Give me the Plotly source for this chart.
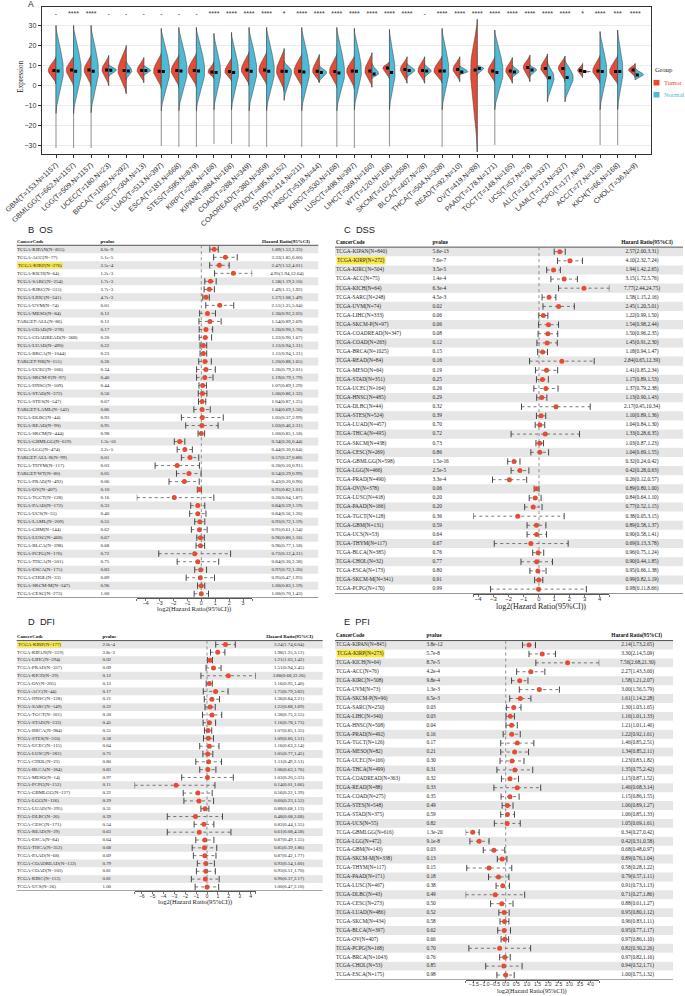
import numpy as np
import plotly.graph_objects as go

W, H = 685, 996
def fx(p): return p / W
def fy(p): return 1 - p / H

RED = "#E64B35"
BLUE = "#4DBBD5"
SANS = "Liberation Sans"
SERIF = "Liberation Serif"

# ---------------- Panel A data ----------------
a_labels = ["GBM(T=153,N=1157)", "GBMLGG(T=662,N=1157)", "LGG(T=509,N=1157)", "UCEC(T=180,N=23)",
            "BRCA(T=1092,N=292)", "CESC(T=304,N=13)", "LUAD(T=513,N=397)", "ESCA(T=181,N=668)",
            "STES(T=595,N=879)", "KIRP(T=288,N=168)", "KIPAN(T=884,N=168)", "COAD(T=288,N=349)",
            "COADREAD(T=380,N=359)", "PRAD(T=495,N=152)", "STAD(T=414,N=211)", "HNSC(T=518,N=44)",
            "KIRC(T=530,N=168)", "LUSC(T=498,N=397)", "LIHC(T=369,N=160)", "WT(T=120,N=168)",
            "SKCM(T=102,N=558)", "BLCA(T=407,N=28)", "THCA(T=504,N=338)", "READ(T=92,N=10)",
            "OV(T=419,N=88)", "PAAD(T=178,N=171)", "TGCT(T=148,N=165)", "UCS(T=57,N=78)",
            "ALL(T=132,N=337)", "LAML(T=173,N=337)", "PCPG(T=177,N=3)", "ACC(T=77,N=128)",
            "KICH(T=66,N=168)", "CHOL(T=36,N=9)"]
a_sig = ["-", "****", "****", "-", "-", "-", "-", "-", "-", "****", "****", "****", "****", "*",
         "****", "****", "****", "****", "****", "****", "****", "-", "****", "****", "****", "****",
         "****", "****", "****", "****", "*", "****", "***", "****"]
tumor_lo = [0.8, -0.5, -0.5, 0, -4, 1.5, -1.5, -1, -1, 3.5, 2, 0, 0, -3, -1, 1.5, -1, -1.8, -0.8, 3.2,
            1.2, 1.2, 1.2, 2, -33, 1.2, 1.2, 2, 2.8, 2, 4.1, 1.2, 0.3, 4.1]
tumor_hi = [14.4, 15, 15.5, 15, 20, 14, 16.5, 15.5, 16.5, 12, 14, 17, 17, 18.5, 16, 15.5, 16, 15, 16.4, 12,
            14.4, 14.4, 14.8, 14.4, 33, 14.4, 14, 15.2, 15.8, 14.8, 11, 15.2, 15.2, 11]
tumor_med = [7.5, 7.8, 7.8, 7.8, 7.5, 7.5, 7.2, 7.5, 7.5, 6.8, 7.0, 7.8, 7.8, 7.2, 7.2, 7.2, 7.0, 7.3, 7.3, 8.8,
             8.1, 7.5, 7.3, 8.1, 7.8, 7.3, 7.3, 9.0, 8.6, 8.6, 7.5, 7.3, 7.0, 7.8]
tumor_wid = [0.44, 0.42, 0.40, 0.38, 0.47, 0.38, 0.44, 0.44, 0.47, 0.34, 0.38, 0.44, 0.44, 0.44, 0.44, 0.38,
             0.42, 0.44, 0.40, 0.38, 0.38, 0.38, 0.47, 0.38, 0.38, 0.38, 0.38, 0.38, 0.38, 0.38, 0.28, 0.42,
             0.46, 0.38]
normal_lo = [-13.8, -13.8, -13.5, 4.5, 3, 5, -12.5, -12.5, -12.5, -12, -12, -12.5, -12.5, -7, -12.5, 2,
             -12.5, -12, 3.6, -12, 4.1, 4.1, -12, 5.3, 5.3, -12, 4.1, 4.5, -8, -8, 6.6, -12, -12, 2.8]
normal_hi = [30, 30, 30, 10.5, 12, 10, 28.5, 29, 29, 26, 26.5, 29, 29, 12, 29, 10, 29, 28.5, 11, 28, 11,
             10.6, 28.5, 9.8, 10.1, 27.7, 10.3, 10.3, 12, 12.8, 7.4, 26.9, 27.7, 8.6]
normal_med = [7.3, 7.2, 7.2, 7.7, 7.3, 7.5, 7.0, 7.3, 7.3, 6.5, 6.5, 7.2, 7.2, 7.2, 6.8, 6.5, 6.3, 7.2, 5.8,
              6.5, 7.5, 7.3, 7.3, 6.8, 8.6, 6.6, 6.8, 7.8, 4.0, 4.1, 7.0, 7.0, 7.0, 5.3]
normal_wid = [0.42, 0.44, 0.42, 0.44, 0.32, 0.40, 0.47, 0.47, 0.47, 0.38, 0.40, 0.44, 0.44, 0.42, 0.44, 0.42,
              0.44, 0.40, 0.38, 0.32, 0.44, 0.38, 0.38, 0.47, 0.38, 0.47, 0.38, 0.38, 0.38, 0.47, 0.45, 0.38,
              0.30, 0.47]
tail_lo = [-31, -31, -31, 0, -4, 1.5, -30, -30.5, -30.5, -29, -29, -30.5, -30.5, -7.5, -30.5, 1.5, -30.5,
           -31, -0.8, -30.3, 1.2, 1.2, -30.5, 2, -33, -29.5, 1.2, 2, -8, -8, 4.1, -29.5, -29.5, 2.8]
tail_hi = [30, 30, 30, 15, 20, 14, 28.5, 29, 29, 26, 26.5, 29, 29, 18.5, 29, 15.5, 29, 28.5, 16.4, 28,
           14.4, 14.4, 28.5, 14.4, 33, 27.7, 14, 15.2, 15.8, 14.8, 11, 26.9, 27.7, 11]

# ---------------- Forest data ----------------
os_names = ["TCGA-KIPAN(N=855)", "TCGA-ACC(N=77)", "TCGA-KIRP(N=276)", "TCGA-KICH(N=64)", "TCGA-SARC(N=254)",
            "TCGA-KIRC(N=515)", "TCGA-LIHC(N=341)", "TCGA-UVM(N=74)", "TCGA-MESO(N=84)", "TARGET-ALL(N=86)",
            "TCGA-COAD(N=278)", "TCGA-COADREAD(N=368)", "TCGA-LUAD(N=490)", "TCGA-BRCA(N=1044)",
            "TARGET-NB(N=151)", "TCGA-UCEC(N=166)", "TCGA-SKCM-P(N=97)", "TCGA-HNSC(N=509)", "TCGA-STAD(N=372)",
            "TCGA-STES(N=547)", "TARGET-LAML(N=142)", "TCGA-DLBC(N=44)", "TCGA-READ(N=90)", "TCGA-SKCM(N=444)",
            "TCGA-GBMLGG(N=619)", "TCGA-LGG(N=474)", "TARGET-ALL-R(N=99)", "TCGA-THYM(N=117)", "TARGET-WT(N=80)",
            "TCGA-PRAD(N=492)", "TCGA-OV(N=407)", "TCGA-TGCT(N=128)", "TCGA-PAAD(N=172)", "TCGA-UCS(N=55)",
            "TCGA-LAML(N=209)", "TCGA-GBM(N=144)", "TCGA-LUSC(N=468)", "TCGA-BLCA(N=398)", "TCGA-PCPG(N=170)",
            "TCGA-THCA(N=501)", "TCGA-ESCA(N=175)", "TCGA-CHOL(N=33)", "TCGA-SKCM-M(N=347)", "TCGA-CESC(N=273)"]
os_p = ["6.0e-9", "5.1e-5", "2.5e-4", "1.2e-3", "1.7e-3", "2.7e-3", "4.7e-3", "0.01", "0.12", "0.12", "0.17",
        "0.20", "0.22", "0.23", "0.26", "0.34", "0.40", "0.44", "0.56", "0.67", "0.86", "0.93", "0.95", "0.98",
        "1.3e-16", "2.2e-5", "0.01", "0.03", "0.05", "0.06", "0.10", "0.16", "0.33", "0.40", "0.55", "0.62",
        "0.67", "0.68", "0.72", "0.75", "0.83", "0.89", "0.96", "1.00"]
os_hr = [1.89, 3.33, 2.47, 4.95, 1.58, 1.49, 1.27, 2.51, 1.36, 1.54, 1.26, 1.22, 1.11, 1.11, 1.20, 1.26, 1.19,
         1.07, 1.06, 1.04, 1.04, 1.05, 1.03, 1.00, 0.34, 0.44, 0.57, 0.30, 0.54, 0.43, 0.91, 0.26, 0.84, 0.84,
         0.93, 0.91, 0.96, 0.96, 0.72, 0.84, 0.97, 0.95, 1.00, 1.00]
os_lo = [1.53, 1.85, 1.52, 1.94, 1.19, 1.15, 1.08, 1.25, 0.92, 0.89, 0.90, 0.90, 0.94, 0.94, 0.88, 0.79, 0.79,
         0.89, 0.86, 0.87, 0.69, 0.37, 0.46, 0.85, 0.26, 0.30, 0.37, 0.10, 0.29, 0.20, 0.82, 0.04, 0.59, 0.56,
         0.72, 0.61, 0.80, 0.77, 0.12, 0.30, 0.72, 0.47, 0.83, 0.70]
os_hi = [2.33, 6.00, 4.01, 12.64, 2.10, 1.92, 1.49, 5.04, 2.03, 2.69, 1.76, 1.67, 1.31, 1.31, 1.65, 2.01, 1.79,
         1.29, 1.32, 1.25, 1.56, 2.99, 2.31, 1.18, 0.44, 0.64, 0.88, 0.91, 0.99, 0.90, 1.01, 1.87, 1.19, 1.26,
         1.19, 1.34, 1.16, 1.18, 4.31, 2.38, 1.30, 1.93, 1.19, 1.43]

dss_names = ["TCGA-KIPAN(N=840)", "TCGA-KIRP(N=272)", "TCGA-KIRC(N=504)", "TCGA-ACC(N=75)", "TCGA-KICH(N=64)",
             "TCGA-SARC(N=248)", "TCGA-UVM(N=74)", "TCGA-LIHC(N=333)", "TCGA-SKCM-P(N=97)",
             "TCGA-COADREAD(N=347)", "TCGA-COAD(N=263)", "TCGA-BRCA(N=1025)", "TCGA-READ(N=84)",
             "TCGA-MESO(N=64)", "TCGA-STAD(N=351)", "TCGA-UCEC(N=164)", "TCGA-HNSC(N=485)", "TCGA-DLBC(N=44)",
             "TCGA-STES(N=524)", "TCGA-LUAD(N=457)", "TCGA-THCA(N=495)", "TCGA-SKCM(N=438)", "TCGA-CESC(N=269)",
             "TCGA-GBMLGG(N=598)", "TCGA-LGG(N=466)", "TCGA-PRAD(N=490)", "TCGA-OV(N=378)", "TCGA-LUSC(N=418)",
             "TCGA-PAAD(N=166)", "TCGA-TGCT(N=128)", "TCGA-GBM(N=131)", "TCGA-UCS(N=53)", "TCGA-THYM(N=117)",
             "TCGA-BLCA(N=385)", "TCGA-CHOL(N=32)", "TCGA-ESCA(N=173)", "TCGA-SKCM-M(N=341)", "TCGA-PCPG(N=170)"]
dss_p = ["5.6e-13", "7.6e-7", "3.5e-5", "1.4e-4", "6.3e-4", "4.5e-3", "0.02", "0.06", "0.06", "0.08", "0.12",
         "0.15", "0.16", "0.19", "0.25", "0.26", "0.29", "0.32", "0.39", "0.70", "0.72", "0.73", "0.86",
         "1.5e-16", "2.5e-5", "3.3e-4", "0.06", "0.20", "0.20", "0.36", "0.59", "0.64", "0.67", "0.76", "0.77",
         "0.80", "0.91", "0.99"]
dss_hr = [2.57, 4.10, 1.94, 3.15, 7.77, 1.58, 2.45, 1.22, 1.54, 1.50, 1.45, 1.18, 2.84, 1.41, 1.17, 1.37, 1.13,
          2.17, 1.10, 1.04, 1.33, 1.03, 1.04, 0.32, 0.42, 0.26, 0.89, 0.84, 0.77, 0.38, 0.89, 0.90, 0.69, 0.96,
          0.90, 0.95, 0.99, 0.98]
dss_lo = [2.00, 2.32, 1.42, 1.72, 2.44, 1.15, 1.20, 0.99, 0.98, 0.96, 0.91, 0.94, 0.65, 0.85, 0.89, 0.79, 0.90,
          0.45, 0.89, 0.84, 0.28, 0.87, 0.69, 0.24, 0.28, 0.12, 0.80, 0.64, 0.52, 0.05, 0.58, 0.58, 0.13, 0.75,
          0.44, 0.66, 0.82, 0.11]
dss_hi = [3.31, 7.24, 2.65, 5.76, 24.75, 2.16, 5.01, 1.50, 2.44, 2.35, 2.30, 1.47, 12.39, 2.34, 1.53, 2.38, 1.43,
          10.34, 1.36, 1.30, 6.35, 1.23, 1.55, 0.42, 0.63, 0.57, 1.00, 1.10, 1.15, 3.15, 1.37, 1.41, 3.78, 1.24,
          1.85, 1.38, 1.19, 8.66]

dfi_names = ["TCGA-KIRP(N=177)", "TCGA-KIPAN(N=319)", "TCGA-LIHC(N=294)", "TCGA-PRAD(N=337)", "TCGA-KICH(N=29)",
             "TCGA-OV(N=205)", "TCGA-ACC(N=44)", "TCGA-HNSC(N=128)", "TCGA-SARC(N=149)", "TCGA-TGCT(N=101)",
             "TCGA-STAD(N=232)", "TCGA-BRCA(N=984)", "TCGA-STES(N=316)", "TCGA-UCEC(N=115)", "TCGA-LUSC(N=282)",
             "TCGA-CHOL(N=23)", "TCGA-BLCA(N=184)", "TCGA-MESO(N=14)", "TCGA-PCPG(N=152)", "TCGA-GBMLGG(N=127)",
             "TCGA-LGG(N=126)", "TCGA-LUAD(N=295)", "TCGA-DLBC(N=26)", "TCGA-CESC(N=171)", "TCGA-READ(N=29)",
             "TCGA-ESCA(N=84)", "TCGA-THCA(N=352)", "TCGA-PAAD(N=68)", "TCGA-COADREAD(N=132)", "TCGA-COAD(N=103)",
             "TCGA-KIRC(N=113)", "TCGA-UCS(N=26)"]
dfi_p = ["2.0e-4", "3.8e-3", "0.02", "0.09", "0.12", "0.13", "0.17", "0.21", "0.22", "0.30", "0.45", "0.55",
         "0.58", "0.64", "0.75", "0.80", "0.83", "0.97", "0.11", "0.22", "0.29", "0.31", "0.39", "0.54", "0.63",
         "0.64", "0.68", "0.69", "0.79", "0.81", "0.81", "1.00"]
dfi_hr = [3.24, 1.98, 1.21, 1.51, 3.88, 1.16, 1.73, 1.36, 1.22, 1.38, 1.16, 1.07, 1.09, 1.16, 1.05, 1.11, 1.06,
          1.03, 0.14, 0.56, 0.60, 0.88, 0.48, 0.82, 0.61, 0.87, 0.85, 0.87, 0.93, 0.93, 0.90, 1.00]
dfi_lo = [1.74, 1.25, 1.03, 0.94, 0.68, 0.95, 0.79, 0.84, 0.88, 0.75, 0.78, 0.85, 0.80, 0.63, 0.77, 0.49, 0.63,
          0.20, 0.01, 0.22, 0.23, 0.68, 0.08, 0.44, 0.08, 0.49, 0.39, 0.42, 0.54, 0.51, 0.37, 0.47]
dfi_hi = [6.04, 3.12, 1.42, 2.45, 22.26, 1.40, 3.82, 2.21, 1.69, 2.55, 1.73, 1.35, 1.51, 2.14, 1.45, 2.51, 1.76,
          5.33, 1.66, 1.39, 1.52, 1.13, 2.68, 1.55, 4.58, 1.55, 1.86, 1.77, 1.60, 1.70, 2.17, 2.10]

pfi_names = ["TCGA-KIPAN(N=845)", "TCGA-KIRP(N=273)", "TCGA-KICH(N=64)", "TCGA-ACC(N=76)", "TCGA-KIRC(N=508)",
             "TCGA-UVM(N=73)", "TCGA-SKCM-P(N=96)", "TCGA-SARC(N=250)", "TCGA-LIHC(N=340)", "TCGA-HNSC(N=508)",
             "TCGA-PRAD(N=492)", "TCGA-TGCT(N=126)", "TCGA-MESO(N=82)", "TCGA-UCEC(N=166)", "TCGA-THCA(N=499)",
             "TCGA-COADREAD(N=363)", "TCGA-READ(N=88)", "TCGA-COAD(N=275)", "TCGA-STES(N=548)",
             "TCGA-STAD(N=375)", "TCGA-UCS(N=55)", "TCGA-GBMLGG(N=616)", "TCGA-LGG(N=472)", "TCGA-GBM(N=143)",
             "TCGA-SKCM-M(N=338)", "TCGA-THYM(N=117)", "TCGA-PAAD(N=171)", "TCGA-LUSC(N=467)", "TCGA-DLBC(N=43)",
             "TCGA-CESC(N=273)", "TCGA-LUAD(N=486)", "TCGA-SKCM(N=434)", "TCGA-BLCA(N=397)", "TCGA-OV(N=407)",
             "TCGA-PCPG(N=168)", "TCGA-BRCA(N=1043)", "TCGA-CHOL(N=53)", "TCGA-ESCA(N=175)"]
pfi_p = ["3.8e-12", "5.7e-8", "8.7e-5", "4.2e-4", "9.8e-4", "1.3e-3", "6.5e-3", "0.03", "0.03", "0.04", "0.16",
         "0.17", "0.21", "0.30", "0.31", "0.32", "0.33", "0.35", "0.49", "0.59", "0.82", "1.3e-20", "9.1e-8",
         "0.03", "0.13", "0.15", "0.18", "0.38", "0.49", "0.50", "0.52", "0.58", "0.62", "0.66", "0.70", "0.76",
         "0.85", "0.98"]
pfi_hr = [2.14, 3.30, 7.56, 2.27, 1.58, 3.00, 1.61, 1.30, 1.16, 1.21, 1.22, 1.46, 1.34, 1.23, 1.35, 1.15, 1.46,
          1.15, 1.06, 1.06, 1.05, 0.34, 0.42, 0.68, 0.89, 0.58, 0.79, 0.91, 0.71, 0.88, 0.95, 0.96, 0.95, 0.97,
          0.82, 0.97, 0.94, 1.00]
pfi_lo = [1.73, 2.14, 2.68, 1.43, 1.21, 1.56, 1.14, 1.03, 1.01, 1.01, 0.92, 0.85, 0.85, 0.83, 0.75, 0.87, 0.68,
          0.86, 0.89, 0.85, 0.69, 0.27, 0.31, 0.48, 0.76, 0.28, 0.57, 0.73, 0.27, 0.61, 0.80, 0.83, 0.77, 0.86,
          0.30, 0.82, 0.52, 0.75]
pfi_hi = [2.65, 5.09, 21.30, 3.60, 2.07, 5.79, 2.28, 1.65, 1.33, 1.46, 1.61, 2.51, 2.11, 1.82, 2.42, 1.52, 3.14,
          1.55, 1.27, 1.33, 1.61, 0.42, 0.58, 0.97, 1.04, 1.22, 1.11, 1.13, 1.86, 1.27, 1.12, 1.11, 1.17, 1.10,
          2.26, 1.16, 1.71, 1.32]

fig = go.Figure()
shapes = []
annos = []

def note(x, y, text, size, family, color="#222", xanchor="center", **kw):
    annos.append(dict(x=fx(x), y=fy(y), xref="paper", yref="paper", text=text, showarrow=False,
                      xanchor=xanchor, yanchor="middle", font=dict(family=family, size=size, color=color), **kw))

# ---------------- Panel A ----------------
def half_violin(i, lo, hi, med, wid, side):
    ys = np.linspace(lo, hi, 60)
    up = max(hi - med, 1e-6)
    dn = max(med - lo, 1e-6)
    u = np.where(ys >= med, (ys - med) / up, (med - ys) / dn)
    w = wid * (1 - np.clip(u, 0, 1) ** 2) ** 2
    xs = i + side * w
    return list(xs) + [i, None], list(ys) + [lo, None]

lx, ly = [], []
for i in range(len(a_labels)):
    lx += [i, i, None]
    ly += [tail_lo[i], tail_hi[i], None]
fig.add_trace(go.Scatter(x=lx, y=ly, mode="lines", line=dict(color="#9a9a9a", width=1.1),
                         xaxis="x", yaxis="y", hoverinfo="skip"))
for side, lo_, hi_, med_, wid_, col in [(-1, tumor_lo, tumor_hi, tumor_med, tumor_wid, RED),
                                        (1, normal_lo, normal_hi, normal_med, normal_wid, BLUE)]:
    px_, py_ = [], []
    for i in range(len(a_labels)):
        a, b = half_violin(i, lo_[i], hi_[i], med_[i], wid_[i], side)
        px_ += a
        py_ += b
    fig.add_trace(go.Scatter(x=px_, y=py_, mode="lines", fill="toself", fillcolor=col,
                             line=dict(color="#3a3a3a", width=0.5), xaxis="x", yaxis="y", hoverinfo="skip"))
idx = list(range(len(a_labels)))
fig.add_trace(go.Scatter(x=[i - 0.12 for i in idx], y=tumor_med, mode="markers",
                         marker=dict(symbol="square", size=3, color="black"), xaxis="x", yaxis="y"))
fig.add_trace(go.Scatter(x=[i + 0.12 for i in idx], y=normal_med, mode="markers",
                         marker=dict(symbol="square", size=3, color="black"), xaxis="x", yaxis="y"))
fig.add_trace(go.Scatter(x=idx, y=[35.5] * len(idx), mode="text", text=a_sig,
                         textfont=dict(family=SANS, size=7, color="#333"), xaxis="x", yaxis="y"))

layout = dict(
    xaxis=dict(domain=[fx(41.7), fx(651)], range=[-0.815, 33.9], tickvals=idx, ticktext=a_labels,
               tickangle=-43, tickfont=dict(family=SANS, size=7.2, color="#333"), ticks="outside",
               ticklen=3, tickcolor="#333", showline=True, mirror=True, linecolor="#333", linewidth=1,
               showgrid=False, zeroline=False, anchor="y"),
    yaxis=dict(domain=[fy(154), fy(7.3)], range=[-34, 39], tickvals=[-30, -20, -10, 0, 10, 20, 30],
               tickfont=dict(family=SANS, size=7, color="#333"), ticks="outside", ticklen=3,
               tickcolor="#333", showline=True, mirror=True, linecolor="#333", linewidth=1,
               showgrid=True, gridcolor="#EBEBEB", gridwidth=1, zeroline=False, anchor="x"),
)
note(20.7, 77, "Expression", 7.2, SERIF, textangle=-90)
note(26, 4, "A", 8.5, SANS, xanchor="left")
note(652.5, 69.3, "Group", 6.8, SERIF, xanchor="left")
for yy, col, name in [(82.7, RED, "Tumor"), (94.7, BLUE, "Normal")]:
    shapes.append(dict(type="rect", xref="paper", yref="paper", x0=fx(653.5), x1=fx(659.5),
                       y0=fy(yy + 2.8), y1=fy(yy - 2.8), fillcolor=col, line=dict(width=0)))
    note(661.5, yy, name, 6.6, SERIF, color=col, xanchor="left")

# ---------------- Forest panels ----------------
def forest(names, pvals, hr, lo, hi, g, xa, ya, hl_row):
    n = len(names)
    xk = "xaxis" + xa[1:]
    yk = "yaxis" + ya[1:]
    top = g["row0"] - 1.6 * g["step"]
    bot = g["row0"] + (n - 0.5) * g["step"]
    layout[yk] = dict(domain=[fy(bot), fy(top)], range=[n - 0.5, -1.6], visible=False, anchor=xa)
    lh, ll, lhi = np.log2(hr), np.log2(lo), np.log2(hi)
    vmin, vmax = float(ll.min()), float(lhi.max())
    d0 = g["zero"] + g["unit"] * vmin
    d1 = g["zero"] + g["unit"] * vmax
    layout[xk] = dict(domain=[fx(d0), fx(d1)], range=[vmin, vmax], anchor=ya, showline=True,
                      linecolor="#555", linewidth=1, ticks="outside", ticklen=2.5, tickwidth=0.8,
                      tickcolor="#555", tickvals=[vmin] + g["ticks"] + [vmax],
                      ticktext=[""] + g["ticklabels"] + [""], ticklabelstandoff=-3, tickangle=0,
                      tickfont=dict(family=SANS, size=g["tfs"], color="#333"),
                      showgrid=False, zeroline=False)
    note((d0 + d1) / 2, g["title_y"], "log2(Hazard Ratio(95%CI))", g["ttl"], SERIF)
    note(g["lab_x"], g["lab_y"], g["label"], 9.3, SANS, xanchor="left")
    for r in range(0, n, 2):
        shapes.append(dict(type="rect", xref="x2", yref=ya, x0=g["sl"], x1=g["sr"], y0=r - 0.5, y1=r + 0.5,
                           fillcolor="#E6E6E6", line=dict(width=0), layer="below"))
    for yy in [-0.5, n - 0.5]:
        shapes.append(dict(type="line", xref="x2", yref=ya, x0=g["sl"], x1=g["sr"], y0=yy, y1=yy,
                           line=dict(color="#555", width=1)))
    shapes.append(dict(type="line", xref=xa, yref=ya, x0=0, x1=0, y0=-0.5, y1=n - 0.5,
                       line=dict(color="#777", width=0.8, dash="dot")))
    rows = list(range(n))
    cx, cy = [], []
    for r in rows:
        cx += [ll[r], lhi[r], None]
        cy += [r, r, None]
    fig.add_trace(go.Scatter(x=cx, y=cy, mode="lines", line=dict(color="#555", width=0.8, dash="dot"),
                             xaxis=xa, yaxis=ya, hoverinfo="skip"))
    fig.add_trace(go.Scatter(x=list(ll) + list(lhi), y=rows + rows, mode="markers",
                             marker=dict(symbol="line-ns", size=4.5, line=dict(width=0.9, color="#333")),
                             xaxis=xa, yaxis=ya, hoverinfo="skip"))
    fig.add_trace(go.Scatter(x=lh, y=rows, mode="markers", marker=dict(symbol="circle", size=5, color=RED),
                             xaxis=xa, yaxis=ya))
    tf = dict(family=SERIF, size=g["fs"], color="#262626")
    nr = [r for r in rows if r != hl_row]
    fig.add_trace(go.Scatter(x=[g["nx"]] * len(nr), y=nr, mode="text", text=[names[r] for r in nr],
                             textposition="middle right", textfont=tf, xaxis="x2", yaxis=ya))
    fig.add_trace(go.Scatter(x=[g["px"]] * n, y=rows, mode="text", text=pvals,
                             textposition="middle right", textfont=tf, xaxis="x2", yaxis=ya))
    hrt = ["%.2f(%.2f,%.2f)" % (hr[r], lo[r], hi[r]) for r in rows]
    fig.add_trace(go.Scatter(x=[g["hx"]] * n, y=rows, mode="text", text=hrt,
                             textposition="middle center", textfont=tf, xaxis="x2", yaxis=ya))
    hf = dict(family=SERIF, size=g["fs"], color="#111")
    fig.add_trace(go.Scatter(x=[g["nx"], g["px"]], y=[-1, -1], mode="text",
                             text=["<b>CancerCode</b>", "<b>pvalue</b>"], textposition="middle right",
                             textfont=hf, xaxis="x2", yaxis=ya))
    fig.add_trace(go.Scatter(x=[g["hhx"]], y=[-1], mode="text", text=["<b>Hazard Ratio(95%CI)</b>"],
                             textposition="middle center", textfont=hf, xaxis="x2", yaxis=ya))
    annos.append(dict(x=g["nx"], y=hl_row, xref="x2", yref=ya, text=names[hl_row], xanchor="left",
                      yanchor="middle", showarrow=False, bgcolor="#F7E94B", borderpad=0, font=tf))

layout["xaxis2"] = dict(domain=[0, 1], range=[0, W], visible=False, anchor="y2")

def int_ticks(a, b):
    return list(range(a, b + 1))

def minus(v):
    return str(v).replace("-", "\u2212")

forest(os_names, os_p, os_hr, os_lo, os_hi,
       dict(row0=249.3, step=8.01, zero=201.3, unit=13.9, nx=17.0, px=100.5, hx=287, hhx=286, sl=16.7, sr=318.3,
            ticks=int_ticks(-4, 3), ticklabels=[minus(v) for v in int_ticks(-4, 3)],
            tfs=5.3, ttl=6.6, title_y=608.5, fs=5.0, lab_x=26, lab_y=230, label="B  OS"),
       "x3", "y2", 2)
forest(dss_names, dss_p, dss_hr, dss_lo, dss_hi,
       dict(row0=251.7, step=9.12, zero=539, unit=15.2, nx=336.0, px=432.5, hx=642, hhx=647, sl=335, sr=683,
            ticks=int_ticks(-4, 4), ticklabels=[minus(v) for v in int_ticks(-4, 4)],
            tfs=6.0, ttl=8.0, title_y=606.5, fs=5.4, lab_x=342, lab_y=230, label="C  DSS"),
       "x4", "y3", 1)
forest(dfi_names, dfi_p, dfi_hr, dfi_lo, dfi_hi,
       dict(row0=644.5, step=7.82, zero=207, unit=10.9, nx=17.0, px=102.5, hx=289, hhx=289.7, sl=16.7, sr=322.7,
            ticks=int_ticks(-6, 4), ticklabels=[minus(v) for v in int_ticks(-6, 4)],
            tfs=5.2, ttl=6.6, title_y=901.5, fs=4.9, lab_x=26, lab_y=621.7, label="D  DFI"),
       "x5", "y4", 0)
e_ticks = [-1.5, -1.0, -0.5, 0.0, 0.5, 1.0, 1.5, 2.0, 2.5, 3.0, 3.5, 4.0]
forest(pfi_names, pfi_p, pfi_hr, pfi_lo, pfi_hi,
       dict(row0=645, step=8.92, zero=505.7, unit=21.2, nx=336.0, px=426.5, hx=637.7, hhx=636.7, sl=335, sr=673,
            ticks=e_ticks, ticklabels=[minus("%.1f" % v) for v in e_ticks],
            tfs=5.0, ttl=6.2, title_y=991.3, fs=5.3, lab_x=342, lab_y=621.7, label="E  PFI"),
       "x6", "y5", 1)

fig.update_layout(**layout)
fig.update_layout(width=W, height=H, margin=dict(l=0, r=0, t=0, b=0), autosize=False,
                  paper_bgcolor="white", plot_bgcolor="rgba(0,0,0,0)", showlegend=False,
                  template="none", shapes=shapes, annotations=annos)
fig.write_html("out.html", config={"displayModeBar": False, "staticPlot": True},
               post_script="document.body.style.margin='0px';document.body.style.padding='0px';"
                           "document.documentElement.style.overflow='hidden';")
